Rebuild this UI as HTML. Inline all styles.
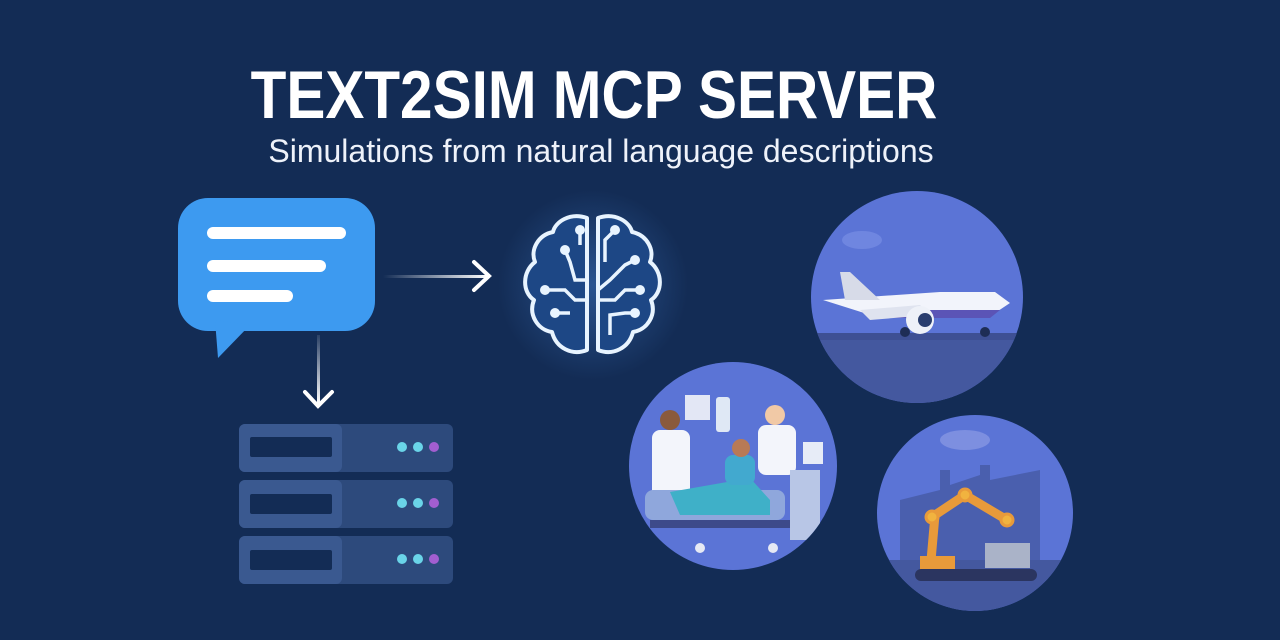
<!DOCTYPE html>
<html><head><meta charset="utf-8"><style>
html,body{margin:0;padding:0;background:#132c55;}
body{width:1280px;height:640px;position:relative;overflow:hidden;font-family:"Liberation Sans",sans-serif;}
.t{position:absolute;color:#fff;white-space:nowrap;}
</style></head><body>
<div class="t" style="left:0;width:1188px;text-align:center;top:56px;font-size:68px;font-weight:bold;transform:scaleX(0.86);transform-origin:594px 0;">TEXT2SIM MCP SERVER</div>
<div class="t" style="left:0;width:1202px;text-align:center;top:133px;font-size:32px;color:#eef2fa;">Simulations from natural language descriptions</div>
<svg width="1280" height="640" style="position:absolute;left:0;top:0">
<defs>
<linearGradient id="ga" x1="0" x2="1"><stop offset="0" stop-color="#fff" stop-opacity="0"/><stop offset="1" stop-color="#fff"/></linearGradient>
<linearGradient id="gd" x1="0" x2="0" y1="0" y2="1"><stop offset="0" stop-color="#fff" stop-opacity="0.1"/><stop offset="1" stop-color="#fff"/></linearGradient>
<radialGradient id="glow"><stop offset="0" stop-color="#3a6fb8" stop-opacity="0.6"/><stop offset="1" stop-color="#3a6fb8" stop-opacity="0"/></radialGradient>
<clipPath id="c1"><circle cx="917" cy="297" r="106"/></clipPath>
<clipPath id="c2"><circle cx="733" cy="466" r="104"/></clipPath>
<clipPath id="c3"><circle cx="975" cy="513" r="98"/></clipPath>
</defs>
<rect x="178" y="198" width="197" height="133" rx="30" fill="#3d9af0"/>
<path d="M215 320 L218 358 L250 325 Z" fill="#3d9af0"/>
<g stroke="#fff" stroke-width="12" stroke-linecap="round">
<line x1="213" y1="233" x2="340" y2="233"/><line x1="213" y1="266" x2="320" y2="266"/><line x1="213" y1="296" x2="287" y2="296"/></g>
<rect x="383" y="275" width="105" height="3" fill="url(#ga)"/>
<path d="M474 262 L489 276 L474 290" fill="none" stroke="#fff" stroke-width="4" stroke-linecap="round"/>
<rect x="317" y="335" width="3" height="68" fill="url(#gd)"/>
<path d="M305 392 L318 406 L332 392" fill="none" stroke="#fff" stroke-width="4" stroke-linecap="round"/>
<g>
<rect x="239" y="424" width="214" height="48" rx="6" fill="#2d4a7c"/><rect x="239" y="424" width="103" height="48" rx="6" fill="#3a5990"/><rect x="250" y="437" width="82" height="20" rx="2" fill="#132c55"/>
<circle cx="402" cy="447" r="5" fill="#6ad4e8"/><circle cx="418" cy="447" r="5" fill="#6ad4e8"/><circle cx="434" cy="447" r="5" fill="#a25ed0"/>
<rect x="239" y="480" width="214" height="48" rx="6" fill="#2d4a7c"/><rect x="239" y="480" width="103" height="48" rx="6" fill="#3a5990"/><rect x="250" y="494" width="82" height="20" rx="2" fill="#132c55"/>
<circle cx="402" cy="503" r="5" fill="#6ad4e8"/><circle cx="418" cy="503" r="5" fill="#6ad4e8"/><circle cx="434" cy="503" r="5" fill="#a25ed0"/>
<rect x="239" y="536" width="214" height="48" rx="6" fill="#2d4a7c"/><rect x="239" y="536" width="103" height="48" rx="6" fill="#3a5990"/><rect x="250" y="550" width="82" height="20" rx="2" fill="#132c55"/>
<circle cx="402" cy="559" r="5" fill="#6ad4e8"/><circle cx="418" cy="559" r="5" fill="#6ad4e8"/><circle cx="434" cy="559" r="5" fill="#a25ed0"/>
</g>
<circle cx="593" cy="285" r="95" fill="url(#glow)"/>
<g fill="#1d4785" stroke="#e8f4ff" stroke-width="4" stroke-linejoin="round">
<path d="M587 218 C570 212 555 222 553 232 C538 235 530 250 535 262 C522 272 522 292 534 300 C528 315 538 330 552 332 C556 348 572 356 587 350 Z"/>
<path d="M598 218 C615 212 630 222 632 232 C647 235 655 250 650 262 C663 272 663 292 651 300 C657 315 647 330 633 332 C629 348 613 356 598 350 Z"/>
</g>
<g fill="none" stroke="#e8f4ff" stroke-width="3.5">
<path d="M587 300 L575 300 L565 290 L545 290"/><path d="M587 280 L575 280 L570 262 L565 250"/><path d="M580 245 L580 230"/><path d="M570 313 L555 313"/>
<path d="M598 290 L610 280 L625 265 L635 260"/><path d="M598 300 L615 300 L625 290 L640 290"/><path d="M605 262 L605 240 L615 230"/><path d="M610 335 L610 315 L625 313 L635 313"/>
</g>
<g fill="#e8f4ff"><circle cx="545" cy="290" r="5"/><circle cx="565" cy="250" r="5"/><circle cx="580" cy="230" r="5"/><circle cx="555" cy="313" r="5"/><circle cx="635" cy="260" r="5"/><circle cx="640" cy="290" r="5"/><circle cx="615" cy="230" r="5"/><circle cx="635" cy="313" r="5"/></g>
<g clip-path="url(#c1)">
<rect x="800" y="180" width="240" height="240" fill="#5b74d6"/>
<rect x="800" y="333" width="240" height="90" fill="#44589f"/>
<rect x="800" y="333" width="240" height="7" fill="#3e5094"/>
<ellipse cx="862" cy="240" rx="20" ry="9" fill="#6f86e0"/>
<path d="M823 300 L940 292 L995 292 L1010 303 L995 313 L880 318 Z" fill="#f2f4fb"/>
<path d="M880 310 L1000 310 L990 318 L880 318 Z" fill="#5b54b6"/>
<path d="M840 272 L850 272 L880 300 L845 300 Z" fill="#d7dbe8"/>
<path d="M860 310 L920 305 L930 315 L870 320 Z" fill="#dfe3ef"/>
<circle cx="920" cy="320" r="14" fill="#eef1f8"/><circle cx="925" cy="320" r="7" fill="#2a3e6e"/>
<circle cx="905" cy="332" r="5" fill="#1e2d55"/><circle cx="985" cy="332" r="5" fill="#1e2d55"/>
</g>
<g clip-path="url(#c2)">
<rect x="620" y="350" width="230" height="230" fill="#5b74d6"/>
<rect x="685" y="395" width="25" height="25" fill="#e3e7f5"/>
<rect x="716" y="397" width="14" height="35" rx="3" fill="#dfe8f5"/>
<rect x="803" y="442" width="20" height="22" fill="#e7ecf7"/>
<rect x="652" y="430" width="38" height="70" rx="8" fill="#f3f5fb"/>
<circle cx="670" cy="420" r="10" fill="#8a5a3c"/>
<rect x="758" y="425" width="38" height="50" rx="8" fill="#f3f5fb"/>
<circle cx="775" cy="415" r="10" fill="#f1c9a6"/>
<rect x="790" y="470" width="30" height="70" fill="#b8c6e6"/>
<rect x="645" y="490" width="140" height="30" rx="8" fill="#8fa7dc"/>
<path d="M670 492 L750 478 L770 500 L770 515 L680 515 Z" fill="#3fb0c8"/>
<rect x="725" y="455" width="30" height="30" rx="8" fill="#42a9cf"/>
<circle cx="741" cy="448" r="9" fill="#b87a56"/>
<rect x="650" y="520" width="140" height="8" fill="#3d4a8a"/>
<circle cx="700" cy="548" r="5" fill="#e6e9f4"/><circle cx="773" cy="548" r="5" fill="#e6e9f4"/>
</g>
<g clip-path="url(#c3)">
<rect x="870" y="410" width="210" height="210" fill="#5b74d6"/>
<ellipse cx="965" cy="440" rx="25" ry="10" fill="#7d8fe0"/>
<path d="M900 500 L940 490 L940 470 L950 470 L950 485 L980 475 L980 465 L990 465 L990 480 L1040 470 L1040 565 L900 565 Z" fill="#4a5fae"/>
<rect x="870" y="560" width="210" height="60" fill="#44589f"/>
<path d="M930 572 L935 515 L965 495 L1007 520" fill="none" stroke="#e89a3a" stroke-width="9" stroke-linejoin="round"/>
<circle cx="932" cy="517" r="6" fill="#f1b33f" stroke="#e89a3a" stroke-width="3"/><circle cx="965" cy="495" r="6" fill="#f1b33f" stroke="#e89a3a" stroke-width="3"/><circle cx="1007" cy="520" r="6" fill="#f1b33f" stroke="#e89a3a" stroke-width="3"/>
<rect x="920" y="556" width="35" height="18" fill="#e89a3a"/>
<rect x="985" y="543" width="45" height="25" fill="#aab3c8"/>
<rect x="915" y="569" width="122" height="12" rx="6" fill="#2b3560"/>
</g>
</svg>
</body></html>
